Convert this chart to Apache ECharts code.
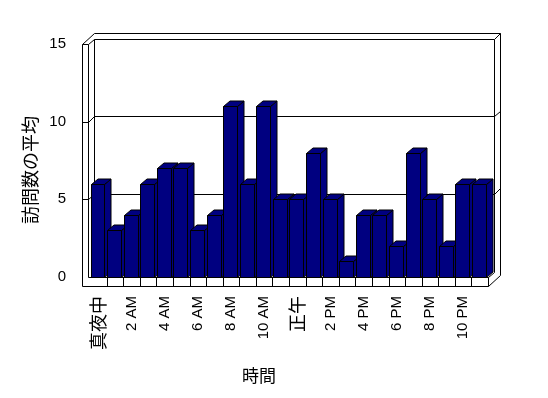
<!DOCTYPE html>
<html>
<head>
<meta charset="utf-8">
<script src="https://cdn.jsdelivr.net/npm/echarts@6/dist/echarts.min.js"></script>
<style>html,body{margin:0;padding:0;background:#fff;}#c{width:548px;height:398px;}</style>
</head>
<body>
<div id="c"></div>
<script>
// ---- data ----
const hours = ['真夜中','1 AM','2 AM','3 AM','4 AM','5 AM','6 AM','7 AM','8 AM','9 AM','10 AM','11 AM',
               '正午','1 PM','2 PM','3 PM','4 PM','5 PM','6 PM','7 PM','8 PM','9 PM','10 PM','11 PM'];
const visits = [6,3,4,6,7,7,3,4,11,6,11,5,5,8,5,1,4,4,2,8,5,2,6,6];
const yTicks = [0,5,10,15];
const yTitle = '訪問数の平均';
const xTitle = '時間';

const FONT = '"Liberation Sans", "Noto Sans CJK JP", sans-serif';
const CJK = '"Noto Sans CJK JP", sans-serif';
const yMin = yTicks[0], yMax = yTicks[yTicks.length-1], yStep = yTicks[1]-yTicks[0];

const chart = echarts.init(document.getElementById('c'), null, {renderer:'canvas'});

function sn(v){ return Math.round(v) + 0.5; }
function ln(x1,y1,x2,y2){
  return {type:'line', shape:{x1:x1,y1:y1,x2:x2,y2:y2}, style:{stroke:'#000', lineWidth:1, fill:null}, silent:true};
}

function frameItem(params, api){
  const bw = api.size([1,0])[0];
  const n = hours.length;
  const x0 = api.coord([0,0])[0] - bw/2;
  const xR = x0 + n*bw;
  const y0 = api.coord([0,0])[1];
  const yT = api.coord([0,yMax])[1];
  const dx = 6, dy = -5.5, th = 9;
  const xo = sn(x0-8), xi = sn(x0-2), xr = sn(xR), yb = sn(y0+th), yf = sn(y0), yt = sn(yT);
  const c = [];
  c.push(ln(xo, yt, xo, yb));
  c.push(ln(xi, yt, xi, yf));
  c.push(ln(xo, yt, xi, yt));
  c.push(ln(xo, yb, xr, yb));
  c.push(ln(xi, yf, xr, yf));
  for (let i=1;i<=n;i++){ const xx = sn(x0+i*bw); c.push(ln(xx, yf, xx, yb)); }
  const bx = sn(x0-2+dx), btY = sn(yT+dy), otY = sn(yT+2*dy), bxR = sn(xR+dx), oxR = sn(xR+2*dx);
  c.push(ln(xo, yt, bx, otY));
  c.push(ln(xi, yt, bx, btY));
  c.push(ln(bx, otY, oxR, otY));
  c.push(ln(bx, btY, bxR, btY));
  c.push(ln(bxR, btY, oxR, otY));
  c.push(ln(bx, btY, bx, sn(y0+dy)));
  c.push(ln(bxR, btY, bxR, sn(y0+dy)));
  c.push(ln(oxR, otY, oxR, sn(y0+th+2*dy)));
  c.push(ln(xr, yb, oxR, sn(y0+th+2*dy)));
  c.push(ln(xr, yf, bxR, sn(y0+dy)));
  for (let k=1;k<yTicks.length-1;k++){
    const yv = api.coord([0,yTicks[k]])[1];
    const f = sn(yv), b = sn(yv+dy), o = sn(yv+2*dy);
    c.push(ln(xo, f, xi, f));
    c.push(ln(xi, f, bx, b));
    c.push(ln(bx, b, bxR, b));
    c.push(ln(bxR, b, oxR, o));
  }
  return {type:'group', children:c};
}

function barItem(params, api){
  const i = api.value(0), v = api.value(1);
  const top = api.coord([i, v]);
  const base = api.coord([i, 0]);
  const bw = api.size([1,0])[0];
  const L = sn(top[0] - bw/2 + 0.5);
  const R = sn(top[0] - bw/2 + 0.5 + bw*0.84);
  const T = sn(top[1]), B = sn(base[1]);
  const dx = 6.5, dy = -5.5;
  const st = {fill:'#000080', stroke:'#000', lineWidth:1};
  return {type:'group', children:[
    {type:'polygon', shape:{points:[[R,T],[R+dx,T+dy],[R+dx,B+dy],[R,B]]}, style:st},
    {type:'polygon', shape:{points:[[L,T],[R,T],[R+dx,T+dy],[L+dx,T+dy]]}, style:st},
    {type:'polygon', shape:{points:[[L,T],[R,T],[R,B],[L,B]]}, style:st}
  ]};
}

chart.setOption({
  animation:false,
  backgroundColor:'#fff',
  grid:{left:90, right:60, top:44, bottom:121},
  xAxis:{
    type:'category', data:hours, boundaryGap:true,
    axisLine:{show:false}, axisTick:{show:false}, splitLine:{show:false},
    axisLabel:{interval:1, rotate:90, margin:19, color:'#000', fontSize:15, fontFamily:FONT,
      formatter:function(v){ return /[^\x00-\x7F]/.test(v) ? '{c|'+v+'}' : '{l|'+v+'}'; },
      rich:{c:{fontSize:18, fontFamily:CJK, color:'#000'}, l:{fontSize:15, fontFamily:FONT, color:'#000'}}
    }
  },
  yAxis:{
    type:'value', min:yMin, max:yMax, interval:yStep,
    axisLine:{show:false}, axisTick:{show:false}, splitLine:{show:false},
    axisLabel:{margin:24, color:'#000', fontSize:15, fontFamily:FONT}
  },
  graphic:[
    {type:'text', x:259, y:376, style:{text:xTitle, align:'center', verticalAlign:'middle', fontSize:17, fontFamily:CJK, fill:'#000'}},
    {type:'text', x:30, y:170, rotation:Math.PI/2, style:{text:yTitle, align:'center', verticalAlign:'middle', fontSize:18, fontFamily:CJK, fill:'#000'}}
  ],
  series:[
    {type:'custom', renderItem:frameItem, data:[[0,0]], encode:{x:0,y:1}, z:1, silent:true, clip:false},
    {type:'custom', renderItem:barItem, data:visits.map((v,i)=>[i,v]), encode:{x:0,y:1}, z:2, silent:true, clip:false}
  ]
});
</script>
</body>
</html>
